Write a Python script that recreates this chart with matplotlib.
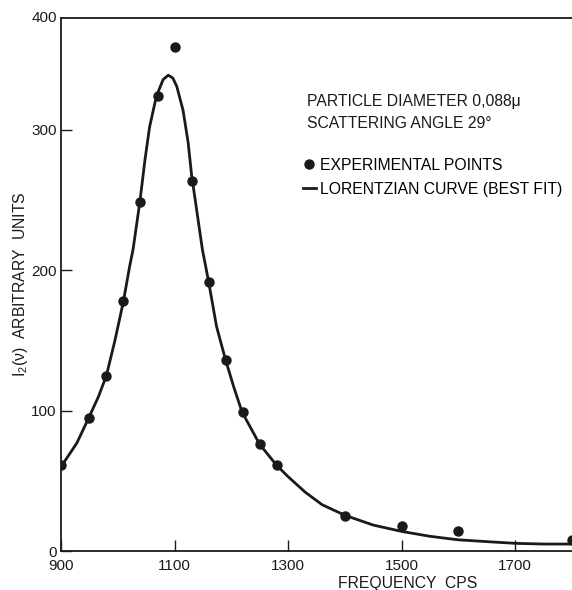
import numpy as np
import matplotlib
matplotlib.use("Agg")
import matplotlib.pyplot as plt

plt.rcParams['font.family'] = ['Liberation Sans', 'DejaVu Sans']
plt.rcParams['mathtext.fontset'] = 'custom'
plt.rcParams['mathtext.rm'] = 'Liberation Sans'
plt.rcParams['mathtext.it'] = 'Liberation Sans'

# experimental points
freq = [900, 950, 980, 1010, 1040, 1070, 1100, 1130, 1160, 1190, 1220, 1250, 1280,
        1400, 1500, 1600, 1800]
intensity = [61, 95, 125, 178, 249, 324, 359, 264, 192, 136, 99, 76, 61,
             25, 18, 14, 8]

# hand drawn lorentzian "best fit"
curve_freq = [900, 928, 949, 966, 980, 995, 1010, 1021, 1027, 1039, 1048, 1056, 1068,
              1080, 1089, 1097, 1104, 1115, 1124, 1130, 1139, 1149, 1160, 1174,
              1190, 1205, 1219, 1250, 1280, 1300, 1330, 1360, 1400, 1450, 1500,
              1550, 1600, 1655, 1700, 1750, 1800]
curve_int = [60, 77, 95, 110, 125, 150, 178, 203, 215, 249, 279, 302, 324,
             336, 339, 337, 331, 314, 291, 268, 243, 215, 192, 160,
             136, 116, 99, 76, 61, 53, 42, 33, 25.5, 18.5, 14,
             10.5, 8, 6.6, 5.5, 5.0, 5.0]

xticks = [900, 1100, 1300, 1500, 1700]
yticks = [0, 100, 200, 300]

fig = plt.figure(figsize=(5.72, 5.90), dpi=100)
ax = fig.add_axes([0.1066, 0.066, 0.8934, 0.904])

ink = '#1a1a1a'
ax.plot(curve_freq, curve_int, '-', color=ink, lw=2.0, label='LORENTZIAN CURVE (BEST FIT)')
ax.plot(freq, intensity, 'o', color=ink, ms=6.5, label='EXPERIMENTAL POINTS')

ax.set_xlim(900, 1800)
ax.set_ylim(0, 380)
ax.set_xticks(xticks)
ax.set_yticks(yticks)
ax.tick_params(direction='in', length=8, width=1.0, color=ink, labelsize=11,
               labelcolor=ink)
ax.tick_params(axis='x', pad=6)
ax.tick_params(axis='y', pad=3)

for side in ['left', 'bottom', 'top']:
    ax.spines[side].set_color(ink)
    ax.spines[side].set_linewidth(1.3)
ax.spines['right'].set_visible(False)

# the original marks its top frame line with "400"
ax.text(-0.008, 1.0, '400', transform=ax.transAxes, ha='right', va='center',
        fontsize=11, color=ink)

ax.set_xlabel('FREQUENCY  CPS', fontsize=11.3, color=ink)
ax.xaxis.set_label_coords(0.679, -0.047)
ax.set_ylabel(r'$\mathrm{I_2(\nu)}$  ARBITRARY  UNITS', fontsize=11.3, color=ink)
ax.yaxis.set_label_coords(-0.06, 0.5)

ax.text(0.481, 0.842, 'PARTICLE DIAMETER 0,088\u03bc', transform=ax.transAxes,
        fontsize=11.3, va='center', color=ink)
ax.text(0.481, 0.801, 'SCATTERING ANGLE 29\u00b0', transform=ax.transAxes,
        fontsize=11.3, va='center', color=ink)

handles, labels = ax.get_legend_handles_labels()
leg = ax.legend(handles[::-1], labels[::-1], loc='upper left',
                bbox_to_anchor=(0.474, 0.737), frameon=False, fontsize=11.3,
                handlelength=0.8, handletextpad=0.3, labelspacing=0.55,
                numpoints=1, borderaxespad=0, borderpad=0)

fig.savefig('out.png', dpi=100)
